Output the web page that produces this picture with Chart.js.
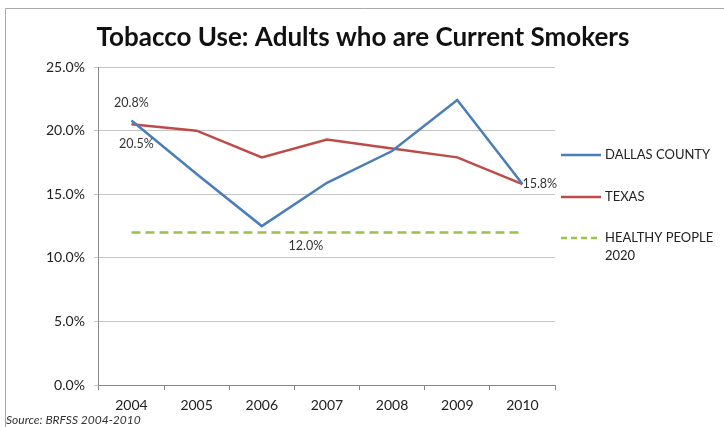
<!DOCTYPE html>
<html>
<head>
<meta charset="utf-8">
<script src="https://cdn.jsdelivr.net/npm/chart.js@4.4.0/dist/chart.umd.min.js"></script>
<style>
  html, body { margin: 0; padding: 0; background: #fff; }
  #wrap { position: relative; width: 724px; height: 427px; }
</style>
</head>
<body>
<div id="wrap"><canvas id="mycanvas" width="724" height="427"></canvas></div>
<script>
var years = ['2004', '2005', '2006', '2007', '2008', '2009', '2010'];
var dallas = [20.8, 16.6, 12.5, 15.9, 18.4, 22.4, 15.8];
var texas = [20.5, 20.0, 17.9, 19.3, 18.6, 17.9, 15.8];
var healthy = [12.0, 12.0, 12.0, 12.0, 12.0, 12.0, 12.0];
var yTicks = [0, 5, 10, 15, 20, 25];

var fontName = 'Lato, "Open Sans", sans-serif';

// title, data labels, legend, source note and frame drawn after chart
var extras = {
	id: 'extras',
	afterDraw: function(chart) {
		var ctx = chart.ctx;
		var xs = chart.scales.x, ys = chart.scales.y;
		ctx.save();

		ctx.fillStyle = '#111';
		ctx.font = 'bold 26px ' + fontName;
		ctx.textAlign = 'center';
		ctx.textBaseline = 'middle';
		ctx.fillText('Tobacco Use: Adults who are Current Smokers', 363, 38);

		ctx.fillStyle = '#333';
		ctx.font = '12.5px ' + fontName;
		ctx.fillText(dallas[0].toFixed(1) + '%', xs.getPixelForValue(0), ys.getPixelForValue(dallas[0]) - 17);
		ctx.fillText(texas[0].toFixed(1) + '%', xs.getPixelForValue(0) + 5, ys.getPixelForValue(texas[0]) + 20);
		ctx.fillText(healthy[3].toFixed(1) + '%', xs.getPixelForValue(3) - 21, ys.getPixelForValue(healthy[3]) + 14);
		ctx.textAlign = 'left';
		ctx.fillText(dallas[6].toFixed(1) + '%', xs.getPixelForValue(6), ys.getPixelForValue(dallas[6]));

		// legend
		var items = [
			{ text: ['DALLAS COUNTY'], color: '#4a7ebb', dash: [], y: 155 },
			{ text: ['TEXAS'], color: '#be4b48', dash: [], y: 197 },
			{ text: ['HEALTHY PEOPLE', '2020'], color: '#98c447', dash: [6, 4], y: 238 }
		];
		ctx.font = '13px ' + fontName;
		ctx.fillStyle = '#222';
		items.forEach(function(it) {
			ctx.strokeStyle = it.color;
			ctx.lineWidth = 2.5;
			ctx.setLineDash(it.dash);
			ctx.beginPath();
			ctx.moveTo(561, it.y);
			ctx.lineTo(601, it.y);
			ctx.stroke();
			ctx.setLineDash([]);
			it.text.forEach(function(t, i) {
				ctx.fillText(t, 605, it.y + i * 18);
			});
		});

		// source
		ctx.font = 'italic 12px ' + fontName;
		ctx.fillStyle = '#333';
		ctx.fillText('Source: BRFSS 2004-2010', 6, 420);

		// frame (top and left edges only, rest is cut off)
		ctx.strokeStyle = '#a8a8a8';
		ctx.lineWidth = 1;
		ctx.beginPath();
		ctx.moveTo(5.5, 427);
		ctx.lineTo(5.5, 8.5);
		ctx.lineTo(724, 8.5);
		ctx.stroke();
		ctx.restore();
	}
};

var chartdata = {
	labels: years,
	datasets: [
		{
			label: 'DALLAS COUNTY',
			data: dallas,
			borderColor: '#4a7ebb',
			backgroundColor: '#4a7ebb',
			borderWidth: 2.5,
			pointRadius: 0,
			tension: 0
		},
		{
			label: 'TEXAS',
			data: texas,
			borderColor: '#be4b48',
			backgroundColor: '#be4b48',
			borderWidth: 2.5,
			pointRadius: 0,
			tension: 0
		},
		{
			label: 'HEALTHY PEOPLE 2020',
			data: healthy,
			borderColor: '#98c447',
			backgroundColor: '#98c447',
			borderWidth: 2.5,
			borderDash: [9, 5],
			pointRadius: 0,
			tension: 0
		}
	]
};

var ctx = document.getElementById('mycanvas');

var lineGraph = new Chart(ctx, {
	type: 'line',
	data: chartdata,
	plugins: [extras],
	options: {
		responsive: false,
		animation: false,
		layout: { padding: { top: 67, left: 37, right: 169, bottom: 6 } },
		plugins: {
			legend: { display: false },
			tooltip: { enabled: false },
			title: { display: false }
		},
		scales: {
			x: {
				offset: true,
				grid: { display: true, drawOnChartArea: false, offset: true, color: '#888', tickLength: 5 },
				border: { color: '#888' },
				ticks: { color: '#222', font: { family: fontName, size: 14 }, padding: 7 }
			},
			y: {
				min: 0,
				max: 25,
				afterBuildTicks: function(axis) {
					axis.ticks = yTicks.map(function(v) { return { value: v }; });
				},
				grid: { color: '#c4c4c4', tickLength: 5 },
				border: { color: '#888' },
				ticks: {
					color: '#222',
					font: { family: fontName, size: 14 },
					padding: 9,
					callback: function(v) { return v.toFixed(1) + '%'; }
				}
			}
		}
	}
});
</script>
</body>
</html>
